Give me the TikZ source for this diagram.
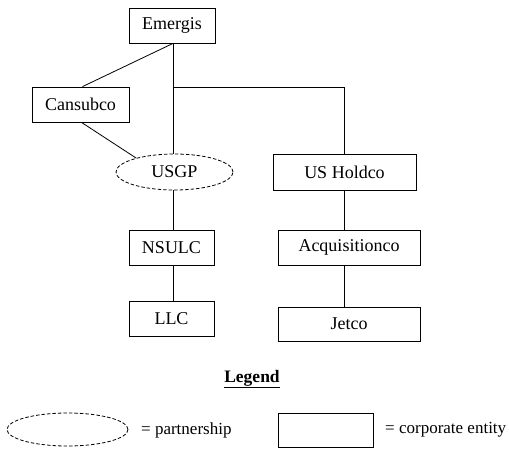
\documentclass[tikz,border=0pt]{standalone}
\usepackage{fontspec}
\setmainfont{Liberation Serif}
\usetikzlibrary{shapes.geometric,calc}
\begin{document}
\begin{tikzpicture}[x=1pt,y=1pt,
  ent/.style={draw, line width=0.8pt, rectangle, inner sep=0pt, font=\fontsize{18}{21}\selectfont},
  pship/.style={draw, line width=0.8pt, ellipse, dashed, dash pattern=on 3.5pt off 2pt, inner sep=0pt, font=\fontsize{18}{21}\selectfont},
  conn/.style={line width=0.8pt},
  lbl/.style={font=\fontsize{17}{20}\selectfont, inner sep=0pt}]
\useasboundingbox (0,0) rectangle (509,-448);
\node[ent, minimum width=86pt, minimum height=35pt] (emergis) at (172,-25.5) {Emergis};
\node[ent, minimum width=97pt, minimum height=35pt] (cansubco) at (80.5,-104.5) {Cansubco};
\node[pship, minimum width=117pt, minimum height=36pt] (usgp) at (174.5,-172) {USGP};
\node[ent, minimum width=143pt, minimum height=36pt] (usholdco) at (344.5,-172) {US Holdco};
\node[ent, minimum width=85pt, minimum height=35pt] (nsulc) at (171.5,-247.5) {NSULC};
\node[ent, minimum width=142pt, minimum height=35pt] (acq) at (349,-247.5) {Acquisitionco};
\node[ent, minimum width=85pt, minimum height=35pt] (llc) at (171.5,-318.5) {LLC};
\node[ent, minimum width=142pt, minimum height=34pt] (jetco) at (349,-324) {Jetco};
\node[lbl, font=\fontsize{17.5}{21}\selectfont\bfseries] (legend) at (252,-379) {\underline{Legend}};
\node[pship, minimum width=121pt, minimum height=33pt] (legell) at (67.5,-429.5) {};
\node[lbl, anchor=west] (legp) at (141,-430) {= partnership};
\node[ent, minimum width=95pt, minimum height=34pt] (legbox) at (325.5,-430) {};
\node[lbl, anchor=west] (legc) at (385,-430) {= corporate entity};
% connectors
\coordinate (top) at ($(emergis.south)+(1,0)$);
\coordinate (j) at ($(top)+(0,-44)$);
\draw[conn] (top) -- (top |- usgp.north);
\draw[conn] (j) -| (usholdco.north);
\draw[conn] (top) -- ($(cansubco.north)+(2,0)$);
\draw[conn] ($(cansubco.south)+(1,0)$) -- (usgp.160);
\draw[conn] (top |- usgp.south) -- (top |- nsulc.north);
\draw[conn] (top |- nsulc.south) -- (top |- llc.north);
\draw[conn] (usholdco.south) -- (usholdco.south |- acq.north);
\draw[conn] (usholdco.south |- acq.south) -- (usholdco.south |- jetco.north);
\end{tikzpicture}
\end{document}
